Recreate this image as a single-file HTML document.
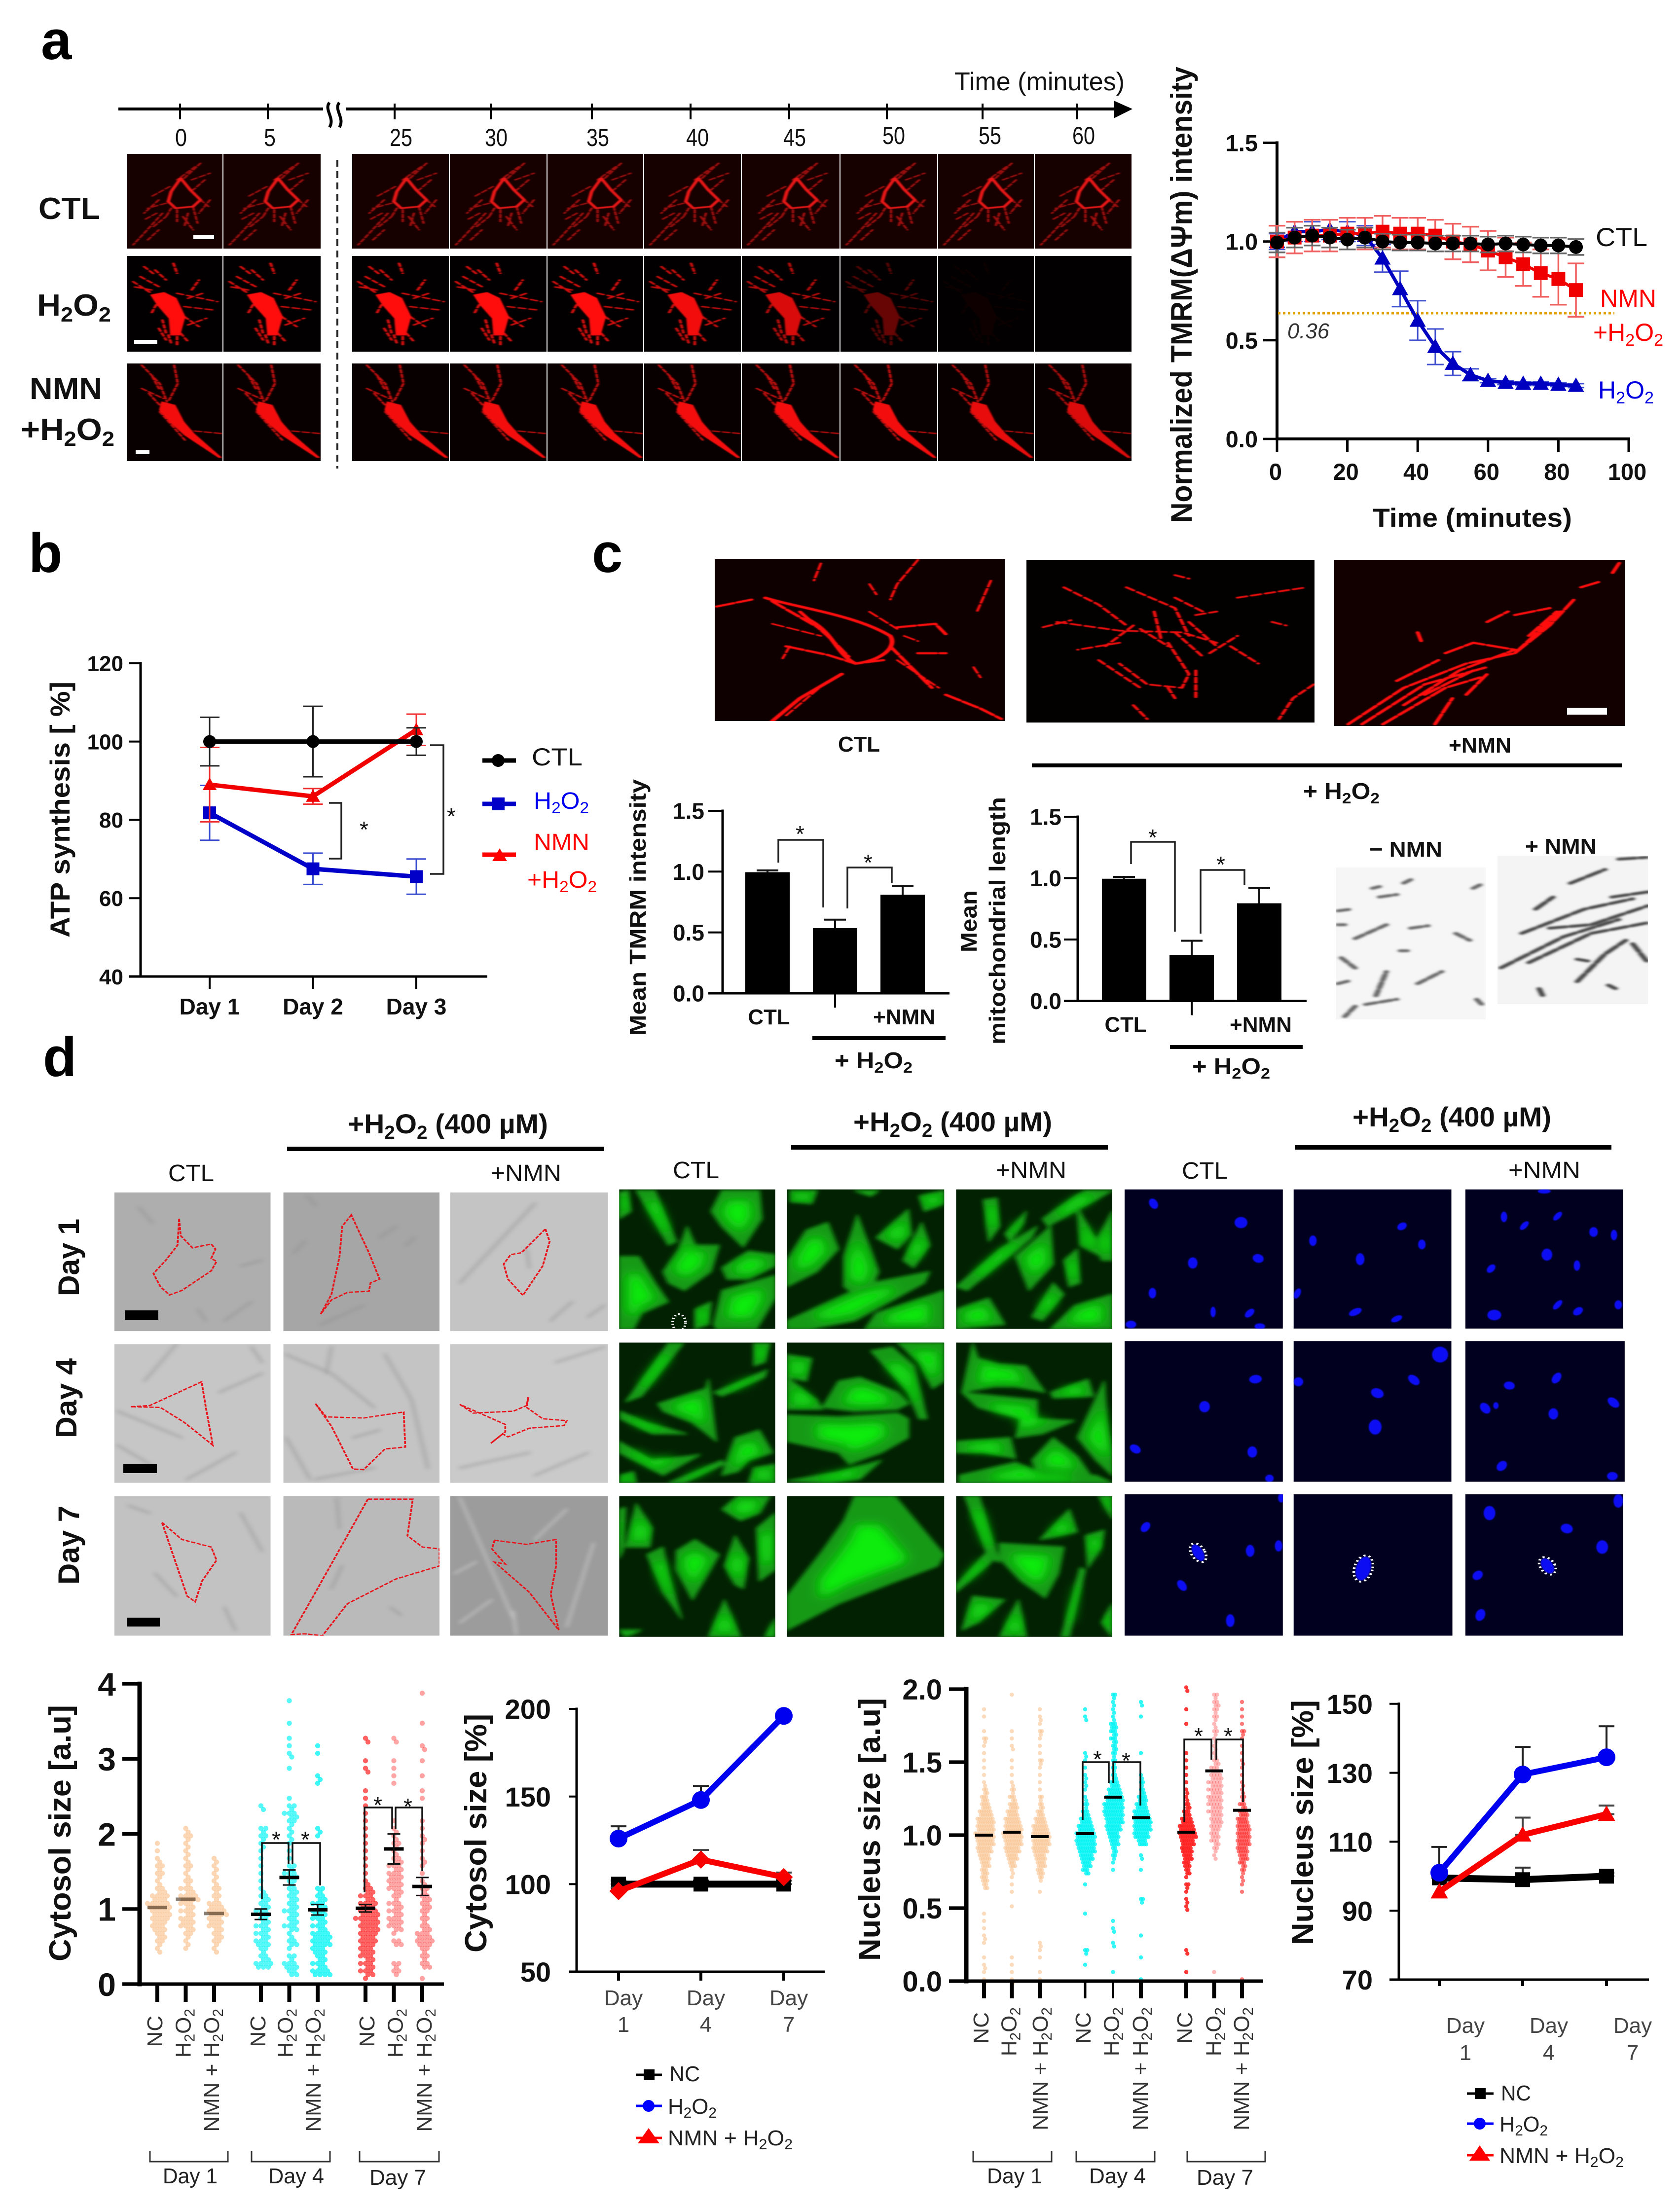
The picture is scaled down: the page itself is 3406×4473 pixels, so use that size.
<!DOCTYPE html>
<html lang="en">
<head>
<meta charset="utf-8">
<title>NMN mitochondria figure</title>
<style>
html,body{margin:0;padding:0;background:#fff}
svg{display:block}
text{font-family:"Liberation Sans",sans-serif;fill:#111}
.b{font-weight:700}
.panel{font-weight:700;font-size:112px;fill:#000}
.c{fill:#222}
.star{font-size:46px;fill:#111}
</style>
</head>
<body>
<svg id="figure" width="3406" height="4473" viewBox="0 0 3406 4473">
<defs>
<filter id="blur1" x="-20%" y="-20%" width="140%" height="140%"><feGaussianBlur stdDeviation="1.3"/></filter>
<filter id="blur2" x="-20%" y="-20%" width="140%" height="140%"><feGaussianBlur stdDeviation="2.5"/></filter>
<filter id="blur4" x="-20%" y="-20%" width="140%" height="140%"><feGaussianBlur stdDeviation="4.5"/></filter>
<filter id="blur8" x="-30%" y="-30%" width="160%" height="160%"><feGaussianBlur stdDeviation="11"/></filter>
<g id="ctl-cell" fill="none" stroke-linecap="round" stroke-linejoin="round" filter="url(#blur1)">
<path d="M220 640L195 700L180 735M212 640L195 660M230 560L205 590M250 535L272 490M260 540L285 520M232 625L225 650M262 622L268 670M240 630L240 665M272 600L283 620M225 610L200 625M255 640L250 680M215 600L195 640M265 500L240 540M278 540L262 570M248 650L262 690M208 680L225 650M200 720L215 690M285 600L270 640" stroke="#a01010" stroke-width="3.5" stroke-dasharray="9 5"/>
<path d="M245 535L232 575L228 605L238 625L262 620L272 600L258 570Z" stroke="#e81515" stroke-width="5"/>
</g>
<g id="h2o2-cell" stroke-linecap="round" stroke-linejoin="round" filter="url(#blur1)">
<path d="M180 845L205 880M190 830L215 860M210 810L225 840M240 880L295 905M250 920L290 930M250 950L270 980M228 1005L232 1030M245 1000L255 1025M215 900L205 940M235 790L240 820M260 870L270 840M205 870L180 860M195 800L210 825M255 895L275 880M255 975L280 955M220 960L225 1000M240 1010L240 1040M215 985L225 1020" fill="none" stroke="#d81010" stroke-width="4" stroke-dasharray="9 6"/>
<path d="M205 885L222 878L238 895L250 950L243 1005L232 1005L230 955L214 915Z" fill="#ff0808" stroke="#ff0808" stroke-width="3"/>
</g>
<g id="nmn-cell" stroke-linecap="round" stroke-linejoin="round" filter="url(#blur1)">
<path d="M190 1095L215 1150L225 1205M235 1095L240 1150L228 1200M190 1165L220 1195M205 1130L215 1170M250 1290L300 1300M215 1235L250 1320M200 1180L215 1215" fill="none" stroke="#c81010" stroke-width="3.5" stroke-dasharray="9 5"/>
<path d="M218 1205L236 1215L248 1265L262 1300L300 1372L297 1372L250 1305L232 1270L215 1230Z" fill="#f40808" stroke="#f40808" stroke-width="2"/>
</g>
</defs>

<rect width="3406" height="4473" fill="#fff"/>

<!-- PANEL A -->
<text class="panel" x="83" y="120">a</text>
<text x="1935" y="183" font-size="52" textLength="345" lengthAdjust="spacingAndGlyphs">Time (minutes)</text>
<path d="M240 221H655M702 221H2265" stroke="#000" stroke-width="6" fill="none"/>
<polygon points="2258,204 2296,221 2258,240" fill="#000"/>
<path d="M668 208C656 222 680 240 668 258M688 208C676 222 700 240 688 258" stroke="#000" stroke-width="6" fill="none"/>
<path d="M365 210V242M543 210V242M800 210V242M995 210V242M1200 210V242M1400 210V242M1600 210V242M1798 210V242M1992 210V242M2184 210V242" stroke="#000" stroke-width="4"/>
<g font-size="50" text-anchor="middle">
<text x="367" y="296" textLength="24" lengthAdjust="spacingAndGlyphs">0</text>
<text x="547" y="296" textLength="24" lengthAdjust="spacingAndGlyphs">5</text>
<text x="813" y="296" textLength="46" lengthAdjust="spacingAndGlyphs">25</text>
<text x="1006" y="296" textLength="46" lengthAdjust="spacingAndGlyphs">30</text>
<text x="1212" y="296" textLength="46" lengthAdjust="spacingAndGlyphs">35</text>
<text x="1414" y="296" textLength="46" lengthAdjust="spacingAndGlyphs">40</text>
<text x="1611" y="296" textLength="46" lengthAdjust="spacingAndGlyphs">45</text>
<text x="1812" y="292" textLength="46" lengthAdjust="spacingAndGlyphs">50</text>
<text x="2007" y="292" textLength="46" lengthAdjust="spacingAndGlyphs">55</text>
<text x="2197" y="292" textLength="46" lengthAdjust="spacingAndGlyphs">60</text>
</g>
<g id="timelapse-tiles"></g>
<path d="M684 324V950" stroke="#222" stroke-width="4" stroke-dasharray="14 9"/>
<rect x="392" y="476" width="42" height="9" fill="#fff"/>
<rect x="272" y="689" width="47" height="9" fill="#fff"/>
<rect x="275" y="913" width="28" height="8" fill="#fff"/>
<text class="b" x="78" y="444" font-size="62" textLength="125" lengthAdjust="spacingAndGlyphs">CTL</text>
<text class="b" x="75" y="640" font-size="62" textLength="150" lengthAdjust="spacingAndGlyphs">H<tspan dy="12" font-size="42">2</tspan><tspan dy="-12">O</tspan><tspan dy="12" font-size="42">2</tspan></text>
<text class="b" x="60" y="809" font-size="62" textLength="147" lengthAdjust="spacingAndGlyphs">NMN</text>
<text class="b" x="42" y="892" font-size="62" textLength="190" lengthAdjust="spacingAndGlyphs">+H<tspan dy="12" font-size="42">2</tspan><tspan dy="-12">O</tspan><tspan dy="12" font-size="42">2</tspan></text>

<g id="chart-tmrm">
<text class="b" transform="rotate(-90 2416 1060)" x="2416" y="1060" font-size="60" textLength="925" lengthAdjust="spacingAndGlyphs">Normalized TMRM(ΔΨm) intensity</text>
<text class="b" x="2783" y="1068" font-size="53" textLength="404" lengthAdjust="spacingAndGlyphs">Time (minutes)</text>
<text x="2610" y="686" font-size="44" font-style="italic" style="fill:#333" textLength="85" lengthAdjust="spacingAndGlyphs">0.36</text>
<text x="3235" y="499" font-size="53" textLength="105" lengthAdjust="spacingAndGlyphs">CTL</text>
<text x="3244" y="622" font-size="50" style="fill:#f00" textLength="114" lengthAdjust="spacingAndGlyphs">NMN</text>
<text x="3230" y="691" font-size="50" style="fill:#f00" textLength="142" lengthAdjust="spacingAndGlyphs">+H<tspan dy="10" font-size="34">2</tspan><tspan dy="-10">O</tspan><tspan dy="10" font-size="34">2</tspan></text>
<text x="3240" y="808" font-size="50" style="fill:#0000e0" textLength="113" lengthAdjust="spacingAndGlyphs">H<tspan dy="10" font-size="34">2</tspan><tspan dy="-10">O</tspan><tspan dy="10" font-size="34">2</tspan></text>
</g>

<!-- PANEL B -->
<text class="panel" x="58" y="1160">b</text>
<g id="chart-atp">
<text class="b" transform="rotate(-90 141 1901)" x="141" y="1901" font-size="56" textLength="519" lengthAdjust="spacingAndGlyphs">ATP synthesis [ %]</text>
</g>
<path d="M667 1628H692V1741H667" fill="none" stroke="#222" stroke-width="3.5"/>
<path d="M872 1511H899V1772H872" fill="none" stroke="#222" stroke-width="3.5"/>
<text class="star" x="729" y="1698">*</text>
<text class="star" x="906" y="1671">*</text>
<g>
<path d="M978 1542H1046" stroke="#000" stroke-width="9"/>
<circle cx="1010" cy="1542" r="13" fill="#000"/>
<text x="1078" y="1552" font-size="50" textLength="103" lengthAdjust="spacingAndGlyphs">CTL</text>
<path d="M978 1630H1046" stroke="#0000c8" stroke-width="9"/>
<rect x="997" y="1617" width="26" height="26" fill="#0000c8"/>
<text x="1082" y="1640" font-size="48" style="fill:#0000f0" textLength="112" lengthAdjust="spacingAndGlyphs">H<tspan dy="9" font-size="32">2</tspan><tspan dy="-9">O</tspan><tspan dy="9" font-size="32">2</tspan></text>
<path d="M978 1733H1046" stroke="#f00" stroke-width="9"/>
<polygon points="998,1746 1028,1746 1013,1720" fill="#f00"/>
<text x="1082" y="1724" font-size="48" style="fill:#f00" textLength="113" lengthAdjust="spacingAndGlyphs">NMN</text>
<text x="1069" y="1800" font-size="48" style="fill:#f00" textLength="141" lengthAdjust="spacingAndGlyphs">+H<tspan dy="9" font-size="32">2</tspan><tspan dy="-9">O</tspan><tspan dy="9" font-size="32">2</tspan></text>
</g>

<!-- PANEL C -->
<text class="panel" x="1200" y="1160">c</text>
<svg x="1449" y="1133" width="588" height="329" viewBox="177 47 418 469" preserveAspectRatio="none">
<rect x="177" y="47" width="418" height="469" fill="#0e0000"/>
<g fill="none" stroke="#ff1010" stroke-linecap="round" stroke-linejoin="round" filter="url(#blur1)">
<path stroke-width="7" d="M250 160C300 190 380 210 430 270C440 300 420 340 380 350C350 320 350 260 310 220M360 380L300 450L260 516"/>
<path stroke-width="6" stroke-dasharray="26 6" d="M180 185L230 165M510 440L560 480L590 510M430 300L470 380L490 420M440 245L495 235L510 265M470 320L510 320M280 300L340 325L380 350L420 340M260 170L330 250L370 330M300 200L340 270"/>
<path stroke-width="4" stroke-dasharray="18 6" d="M470 50L440 120L430 165M575 110L555 200M330 60L320 110M400 120L410 150M260 235L330 270M550 360L560 390M280 500L340 400M450 270L470 285M400 200L440 250M285 300L275 335M440 340L500 420"/>
</g>
</svg>
<svg x="2081" y="1136" width="584" height="329" viewBox="626 52 415 468" preserveAspectRatio="none">
<rect x="626" y="52" width="415" height="468" fill="#030000"/>
<g fill="none" stroke="#f01010" stroke-width="5" stroke-linecap="round" stroke-linejoin="round" stroke-dasharray="14 7" filter="url(#blur1)">
<path d="M680 130L730 180L770 240M770 130L840 190L860 270M670 230L760 255L850 260L900 290M780 240L740 300M760 290L700 310M840 160L880 200M830 290L860 380L850 420L800 410L760 350M920 300L960 350M1040 410L1010 450L990 510M930 160L1030 130M870 370L870 450M840 95L860 105M870 210L900 200M730 340L790 420M890 320L930 270M650 245L690 225M980 230L1000 240M780 470L800 510M830 420L840 450M810 200L820 280M860 230L900 300M840 260L880 330M790 250L830 300"/>
</g>
</svg>
<svg x="2705" y="1136" width="589" height="336" viewBox="1070 52 418 478" preserveAspectRatio="none">
<rect x="1070" y="52" width="418" height="478" fill="#120000"/>
<g fill="none" stroke="#ff1010" stroke-width="6" stroke-linecap="round" stroke-linejoin="round" stroke-dasharray="30 6" filter="url(#blur1)">
<path d="M1090 525L1170 420L1260 350L1330 320L1380 240L1415 165M1110 525L1200 410L1290 360M1140 525L1230 420L1280 390M1170 470L1250 370L1330 310M1215 525L1240 450M1260 440L1290 380M1230 320L1270 290L1330 310M1290 230L1320 200M1330 210L1380 190M1425 130L1450 115M1190 260L1195 285M1480 60L1470 90M1350 270L1390 200M1160 400L1220 340M1200 440L1270 370M1330 320L1395 200"/>
</g>
</svg>
<rect x="3177" y="1435" width="81" height="14" fill="#fff"/>
<text class="b" x="1699" y="1524" font-size="44" textLength="85" lengthAdjust="spacingAndGlyphs">CTL</text>
<text class="b" x="2937" y="1526" font-size="44" textLength="127" lengthAdjust="spacingAndGlyphs">+NMN</text>
<rect x="2092" y="1548" width="1196" height="8" fill="#000"/>
<text class="b" x="2642" y="1620" font-size="46" textLength="155" lengthAdjust="spacingAndGlyphs">+ H<tspan dy="9" font-size="31">2</tspan><tspan dy="-9">O</tspan><tspan dy="9" font-size="31">2</tspan></text>

<g id="chart-bar1">
<text class="b" transform="rotate(-90 1309 2100)" x="1309" y="2100" font-size="46" textLength="520" lengthAdjust="spacingAndGlyphs">Mean  TMRM intensity</text>
</g>
<path d="M1578 1749V1703H1669V1840M1718 1842V1759H1808V1791" fill="none" stroke="#222" stroke-width="3.5"/>
<text class="star" x="1613" y="1707">*</text>
<text class="star" x="1751" y="1765">*</text>
<rect x="1647" y="2101" width="270" height="8" fill="#000"/>
<text class="b" x="1692" y="2166" font-size="46" textLength="158" lengthAdjust="spacingAndGlyphs">+ H<tspan dy="9" font-size="31">2</tspan><tspan dy="-9">O</tspan><tspan dy="9" font-size="31">2</tspan></text>

<g id="chart-bar2">
<text class="b" transform="rotate(-90 1980 1931)" x="1980" y="1931" font-size="46" textLength="126" lengthAdjust="spacingAndGlyphs">Mean</text>
<text class="b" transform="rotate(-90 2038 2118)" x="2038" y="2118" font-size="46" textLength="502" lengthAdjust="spacingAndGlyphs">mitochondrial length</text>
</g>
<path d="M2293 1752V1707H2382V1889M2434 1893V1764H2523V1794" fill="none" stroke="#222" stroke-width="3.5"/>
<text class="star" x="2328" y="1714">*</text>
<text class="star" x="2466" y="1769">*</text>
<rect x="2372" y="2119" width="269" height="8" fill="#000"/>
<text class="b" x="2417" y="2178" font-size="46" textLength="158" lengthAdjust="spacingAndGlyphs">+ H<tspan dy="9" font-size="31">2</tspan><tspan dy="-9">O</tspan><tspan dy="9" font-size="31">2</tspan></text>

<svg x="2708" y="1759" width="304" height="308" viewBox="1072 940 216 438" preserveAspectRatio="none">
<rect x="1072" y="940" width="216" height="438" fill="#f6f6f6"/>
<g fill="none" stroke="#666" stroke-width="8" stroke-linecap="round" stroke-dasharray="16 7" filter="url(#blur2)">
<path d="M1125 1000L1135 995M1135 1025L1160 1018M1170 985L1180 975M1270 1000L1280 990M1075 1065L1095 1060M1075 1105H1085M1100 1145L1145 1105M1180 1115L1205 1108M1245 1130L1265 1150M1165 1180H1175M1080 1200L1100 1230M1075 1275L1095 1265M1115 1335L1160 1320M1100 1340L1085 1370M1130 1310L1145 1240M1190 1275L1225 1240M1275 1320L1285 1340"/>
</g>
</svg>
<svg x="3036" y="1735" width="305" height="301" viewBox="1305 905 217 430" preserveAspectRatio="none">
<rect x="1305" y="905" width="217" height="430" fill="#f4f4f4"/>
<g fill="none" stroke="#444" stroke-width="8" stroke-linecap="round" stroke-dasharray="24 7" filter="url(#blur2)">
<path d="M1480 915L1520 910M1410 985L1460 945M1470 1025L1522 1010M1360 1060L1385 1025M1340 1130L1430 1060L1500 1030M1380 1115L1440 1105L1522 1050M1310 1230L1400 1140L1480 1090M1350 1215L1440 1130L1520 1100M1420 1270L1460 1190L1490 1150M1420 1205L1435 1210M1500 1160L1520 1210M1365 1290L1370 1310M1465 1280L1475 1290"/>
</g>
</svg>
<text class="b" x="2776" y="1737" font-size="44" textLength="148" lengthAdjust="spacingAndGlyphs">− NMN</text>
<text class="b" x="3092" y="1731" font-size="44" textLength="145" lengthAdjust="spacingAndGlyphs">+ NMN</text>

<!-- PANEL D -->
<text class="panel" x="87" y="2182">d</text>
<text class="b" x="705" y="2298" font-size="56" textLength="406" lengthAdjust="spacingAndGlyphs">+H<tspan dy="11" font-size="38">2</tspan><tspan dy="-11">O</tspan><tspan dy="11" font-size="38">2</tspan><tspan dy="-11"> (400 µM)</tspan></text>
<rect x="582" y="2325" width="643" height="9" fill="#000"/>
<text x="341" y="2395" font-size="48" textLength="93" lengthAdjust="spacingAndGlyphs">CTL</text>
<text x="995" y="2395" font-size="48" textLength="143" lengthAdjust="spacingAndGlyphs">+NMN</text>
<text x="1364" y="2389" font-size="48" textLength="94" lengthAdjust="spacingAndGlyphs">CTL</text>
<text class="b" x="1730" y="2294" font-size="56" textLength="403" lengthAdjust="spacingAndGlyphs">+H<tspan dy="11" font-size="38">2</tspan><tspan dy="-11">O</tspan><tspan dy="11" font-size="38">2</tspan><tspan dy="-11"> (400 µM)</tspan></text>
<rect x="1604" y="2322" width="642" height="9" fill="#000"/>
<text x="2019" y="2389" font-size="48" textLength="143" lengthAdjust="spacingAndGlyphs">+NMN</text>
<text x="2396" y="2390" font-size="48" textLength="93" lengthAdjust="spacingAndGlyphs">CTL</text>
<text class="b" x="2742" y="2284" font-size="56" textLength="403" lengthAdjust="spacingAndGlyphs">+H<tspan dy="11" font-size="38">2</tspan><tspan dy="-11">O</tspan><tspan dy="11" font-size="38">2</tspan><tspan dy="-11"> (400 µM)</tspan></text>
<rect x="2625" y="2322" width="642" height="9" fill="#000"/>
<text x="3058" y="2389" font-size="48" textLength="146" lengthAdjust="spacingAndGlyphs">+NMN</text>
<text class="b" transform="rotate(-90 160 2628)" x="160" y="2628" font-size="60" textLength="157" lengthAdjust="spacingAndGlyphs">Day 1</text>
<text class="b" transform="rotate(-90 155 2916)" x="155" y="2916" font-size="60" textLength="162" lengthAdjust="spacingAndGlyphs">Day 4</text>
<text class="b" transform="rotate(-90 160 3213)" x="160" y="3213" font-size="60" textLength="160" lengthAdjust="spacingAndGlyphs">Day 7</text>
<g id="cell-tiles"></g>
<rect x="253" y="2657" width="68" height="19" fill="#000"/>
<rect x="250" y="2969" width="68" height="18" fill="#000"/>
<rect x="257" y="3280" width="67" height="18" fill="#000"/>

<g id="chart-cyto">
<text class="b" transform="rotate(-90 143 3977)" x="143" y="3977" font-size="62" textLength="520" lengthAdjust="spacingAndGlyphs">Cytosol size [a.u]</text>
</g>
<path d="M531 3851V3737H585V3780M593 3780V3737H649V3823M739 3837V3665H795V3708M802 3708V3665H856V3794" fill="none" stroke="#111" stroke-width="3.5"/>
<text class="star" x="551" y="3746">*</text>
<text class="star" x="610" y="3746">*</text>
<text class="star" x="757" y="3676">*</text>
<text class="star" x="818" y="3679">*</text>
<path d="M304 4362V4383H462V4362M510 4362V4383H669V4362M729 4362V4383H890V4362" fill="none" stroke="#333" stroke-width="3"/>
<text class="c" x="330" y="4427" font-size="44" textLength="111" lengthAdjust="spacingAndGlyphs">Day 1</text>
<text class="c" x="544" y="4427" font-size="44" textLength="113" lengthAdjust="spacingAndGlyphs">Day 4</text>
<text class="c" x="749" y="4430" font-size="44" textLength="115" lengthAdjust="spacingAndGlyphs">Day 7</text>

<g id="chart-cytopct">
<text class="b" transform="rotate(-90 986 3959)" x="986" y="3959" font-size="62" textLength="484" lengthAdjust="spacingAndGlyphs">Cytosol size [%]</text>
</g>
<g>
<path d="M1289 4207H1342" stroke="#000" stroke-width="5"/>
<rect x="1305" y="4196" width="22" height="22" fill="#000"/>
<text class="c" x="1357" y="4220" font-size="44" textLength="62" lengthAdjust="spacingAndGlyphs">NC</text>
<path d="M1289 4270H1342" stroke="#00f" stroke-width="5"/>
<circle cx="1315" cy="4270" r="12" fill="#00f"/>
<text class="c" x="1354" y="4286" font-size="44" textLength="99" lengthAdjust="spacingAndGlyphs">H<tspan dy="8" font-size="30">2</tspan><tspan dy="-8">O</tspan><tspan dy="8" font-size="30">2</tspan></text>
<path d="M1289 4335H1342" stroke="#f00" stroke-width="5"/>
<polygon points="1293,4346 1337,4346 1315,4315" fill="#f00"/>
<text class="c" x="1354" y="4350" font-size="44" textLength="253" lengthAdjust="spacingAndGlyphs">NMN + H<tspan dy="8" font-size="30">2</tspan><tspan dy="-8">O</tspan><tspan dy="8" font-size="30">2</tspan></text>
</g>

<g id="chart-nuc">
<text class="b" transform="rotate(-90 1784 3976)" x="1784" y="3976" font-size="62" textLength="533" lengthAdjust="spacingAndGlyphs">Nucleus size [a.u]</text>
</g>
<path d="M2195 3690V3573H2248V3615M2257 3615V3573H2312V3661M2401 3694V3527H2456V3568M2466 3568V3527H2520V3654" fill="none" stroke="#111" stroke-width="3.5"/>
<text class="star" x="2216" y="3583">*</text>
<text class="star" x="2274" y="3586">*</text>
<text class="star" x="2421" y="3536">*</text>
<text class="star" x="2481" y="3536">*</text>
<path d="M1973 4362V4383H2132V4362M2182 4362V4383H2341V4362M2407 4362V4383H2565V4362" fill="none" stroke="#333" stroke-width="3"/>
<text class="c" x="2001" y="4427" font-size="44" textLength="112" lengthAdjust="spacingAndGlyphs">Day 1</text>
<text class="c" x="2208" y="4427" font-size="44" textLength="115" lengthAdjust="spacingAndGlyphs">Day 4</text>
<text class="c" x="2426" y="4430" font-size="44" textLength="115" lengthAdjust="spacingAndGlyphs">Day 7</text>

<g id="chart-nucpct">
<text class="b" transform="rotate(-90 2662 3944)" x="2662" y="3944" font-size="62" textLength="497" lengthAdjust="spacingAndGlyphs">Nucleus size [%]</text>
</g>
<g>
<path d="M2974 4245H3028" stroke="#000" stroke-width="5"/>
<rect x="2990" y="4234" width="22" height="22" fill="#000"/>
<text class="c" x="3043" y="4259" font-size="44" textLength="61" lengthAdjust="spacingAndGlyphs">NC</text>
<path d="M2974 4306H3028" stroke="#00f" stroke-width="5"/>
<circle cx="3000" cy="4306" r="12" fill="#00f"/>
<text class="c" x="3040" y="4322" font-size="44" textLength="98" lengthAdjust="spacingAndGlyphs">H<tspan dy="8" font-size="30">2</tspan><tspan dy="-8">O</tspan><tspan dy="8" font-size="30">2</tspan></text>
<path d="M2974 4370H3028" stroke="#f00" stroke-width="5"/>
<polygon points="2979,4381 3021,4381 3000,4350" fill="#f00"/>
<text class="c" x="3040" y="4386" font-size="44" textLength="252" lengthAdjust="spacingAndGlyphs">NMN + H<tspan dy="8" font-size="30">2</tspan><tspan dy="-8">O</tspan><tspan dy="8" font-size="30">2</tspan></text>
</g>
</svg>

<script>
/* ---------- chart data: panel a ---------- */
var tmrmTimes = [0,5,10,15,20,25,30,35,40,45,50,55,60,65,70,75,80,85];
var tmrmCtl = [0.995,1.02,1.03,1.02,1.01,1.02,1.0,0.995,0.995,0.99,0.99,0.99,0.985,0.99,0.985,0.98,0.98,0.972];
var tmrmCtlErr = [0.05,0.05,0.05,0.05,0.05,0.05,0.04,0.04,0.04,0.04,0.04,0.04,0.04,0.04,0.04,0.04,0.04,0.04];
var tmrmNmn = [1.0,1.02,1.03,1.03,1.04,1.04,1.05,1.04,1.04,1.03,1.0,0.985,0.954,0.92,0.885,0.84,0.81,0.754];
var tmrmNmnErr = [0.08,0.08,0.08,0.08,0.08,0.08,0.08,0.08,0.08,0.08,0.09,0.09,0.1,0.1,0.11,0.12,0.13,0.135];
var tmrmH2o2 = [1.0,1.05,1.05,1.06,1.05,1.03,0.915,0.76,0.6,0.467,0.382,0.325,0.295,0.285,0.28,0.28,0.275,0.27];
var tmrmH2o2Err = [0.04,0.05,0.05,0.05,0.05,0.05,0.07,0.09,0.1,0.09,0.06,0.03,0.01,0.01,0.01,0.01,0.01,0.01];
var tmrmYTicks = [0,0.5,1,1.5];
var tmrmXTicks = [0,20,40,60,80,100];
var tmrmThreshold = [0.637];

/* ---------- chart data: panel b ---------- */
var atpDays = ['Day 1','Day 2','Day 3'];
var atpCtl = [100,100,100];
var atpCtlErr = [6.2,9,3.5];
var atpH2o2 = [81.8,67.5,65.5];
var atpH2o2Err = [7,4,4.5];
var atpNmn = [89,86,103];
var atpNmnErr = [9.5,2,4];
var atpYTicks = [40,60,80,100,120];

/* ---------- chart data: panel c ---------- */
var barCats = ['CTL','','+NMN'];
var barYTicks = [0,0.5,1,1.5];
var meanTmrm = [0.995,0.535,0.81];
var meanTmrmErr = [0.015,0.07,0.07];
var meanLength = [0.995,0.375,0.795];
var meanLengthErr = [0.015,0.115,0.125];

/* ---------- chart data: panel d swarms ---------- */
var cytoBins = [0.05,0.15,0.25,0.35,0.45,0.55,0.65,0.75,0.85,0.95,1.05,1.15,1.25,1.35,1.45,1.55,1.65,1.75,1.85,1.95,2.05,2.15,2.25,2.35,2.45,2.55,2.65,2.75,2.85,2.95,3.05,3.15,3.25,3.35,3.45,3.55,3.65,3.75,3.85];
var cytoDay1NC   = [0,0,0,0,2,3,4,6,7,8,10,7,4,2,3,3,2,1,1];
var cytoDay1H2o2 = [0,0,0,0,1,2,3,5,6,5,5,8,5,3,2,3,2,2,2,3,2];
var cytoDay1Nmn  = [0,0,0,0,2,3,4,5,6,8,6,3,3,2,2,2,2];
var cytoDay4NC   = [0,0,7,4,3,6,5,5,4,5,4,4,2,1,1,1,1,1,2,3,3,0,0,2];
var cytoDay4H2o2 = [0,4,6,3,1,4,2,5,4,5,4,4,4,3,5,3,1,1,1,2,2,3,5,3,1,0,0,0,1,0,2,1,1,0,1,0,0,1];
var cytoDay4Nmn  = [0,8,5,4,6,8,8,5,5,6,5,4,3,0,0,0,0,0,0,1,2,0,0,0,0,0,1,2,0,0,1,1];
var cytoDay7NC   = [1,5,5,5,6,7,7,8,9,8,7,5,4,2,1,1,1,1,1,1,1,1,1,1,1,1,0,0,2,1,0,0,2];
var cytoDay7H2o2 = [0,3,3,0,0,4,1,5,6,5,5,3,5,6,6,5,4,2,3,2,2,1,0,0,0,0,1,1,1,1,0,0,2];
var cytoDay7Nmn  = [1,0,4,3,3,7,6,4,3,3,4,4,3,2,1,1,2,1,1,2,1,1,0,0,1,1,0,1,0,1,0,2,0,0,1,0,0,0,1];
var cytoMeans = [1.02,1.13,0.94,0.93,1.42,0.99,1.01,1.8,1.3];
var cytoErrs  = [0,0,0,0.07,0.1,0.07,0.05,0.2,0.12];
var cytoYTicks = [0,1,2,3,4];

var nucBins = [0,0.05,0.1,0.15,0.2,0.25,0.3,0.35,0.4,0.45,0.5,0.55,0.6,0.65,0.7,0.75,0.8,0.85,0.9,0.95,1,1.05,1.1,1.15,1.2,1.25,1.3,1.35,1.4,1.45,1.5,1.55,1.6,1.65,1.7,1.75,1.8,1.85,1.9,1.95,2];
var nucDay1NC   = [2,1,2,1,0,1,2,1,1,1,0,0,0,4,6,6,8,10,14,16,18,16,16,12,8,6,4,2,1,1,1,1,1,3,1,0,1,1];
var nucDay1H2o2 = [2,1,1,1,0,0,0,0,0,0,1,0,1,1,1,2,6,10,14,16,18,16,14,10,8,5,3,2,1,1,1,0,2,1,1,0,0,0,0,1];
var nucDay1Nmn  = [1,1,0,1,1,2,0,0,0,0,0,0,1,0,3,6,8,10,14,16,16,14,10,6,4,3,1,1,1,1,3,1,1,1,3,1,2,1];
var nucDay4NC   = [0,0,1,0,3,0,0,0,0,1,0,0,0,1,0,5,8,12,16,18,18,14,10,6,3,2,1,2,2,1,1,2,0,0,0,0,2,1];
var nucDay4H2o2 = [0,1,0,0,0,2,0,2,1,0,0,0,0,0,0,1,1,3,4,8,10,14,16,18,18,16,12,8,4,3,3,3,4,5,5,6,2,2,2,3];
var nucDay4Nmn  = [1,0,0,1,0,0,1,0,0,0,0,3,0,0,0,1,0,2,0,8,14,16,16,14,10,8,4,3,2,0,0,1,0,0,0,0,1,0,2];
var nucDay7NC   = [0,1,0,0,2,0,0,0,0,0,2,2,1,3,1,4,6,8,10,12,16,14,10,6,4,2,2,1,1,1,1,1,0,0,0,1,0,1,0,0,2];
var nucDay7H2o2 = [0,1,0,0,0,0,0,0,0,0,0,0,0,0,0,0,0,2,3,5,6,7,8,9,9,10,9,9,8,6,4,2,2,2,3,2,3,3,4,3];
var nucDay7Nmn  = [1,0,0,0,0,0,0,0,0,0,0,0,1,1,2,3,5,8,10,12,12,12,10,8,5,3,2,2,1,1,2,1,1,1,3,1,1,1,1];
var nucMeans = [1.0,1.02,0.99,1.01,1.26,1.12,1.02,1.44,1.17];
var nucYTicks = [0,0.5,1,1.5,2];
var swarmCats = ['NC','H2O2','NMN + H2O2'];

/* ---------- chart data: panel d lines ---------- */
var dayNames = ['Day','Day','Day'];
var dayNums = ['1','4','7'];
var cytoPctNC = [100,100,100];
var cytoPctNCErr = [2,2,2];
var cytoPctH2o2 = [126,148,196];
var cytoPctH2o2Err = [7,8,0];
var cytoPctNmn = [96,114,104];
var cytoPctNmnErr = [2,5.5,2.6];
var cytoPctYTicks = [50,100,150,200];
var nucPctNC = [99.5,99,100];
var nucPctNCErr = [1,3.5,1];
var nucPctH2o2 = [101,129.5,134.5];
var nucPctH2o2Err = [7.5,8,9];
var nucPctNmn = [95.5,112,118];
var nucPctNmnErr = [0,5,2.5];
var nucPctYTicks = [70,90,110,130,150];

/* ---------- helpers ---------- */
function mk(tag,parent,attrs){
  var el=document.createElementNS('http://www.w3.org/2000/svg',tag);
  for(var k in attrs){el.setAttribute(k,attrs[k]);}
  parent.appendChild(el);
  return el;
}
function rule(g,x1,y1,x2,y2,color,w,name){
  var el=mk('line',g,{x1:x1,y1:y1,x2:x2,y2:y2,stroke:color,'stroke-width':w});
  
  
  return el;
}
function tickText(g,x,y,str,size,anchor,weight,fill){
  var el=mk('text',g,{x:x,y:y,'font-size':size,'text-anchor':anchor,'font-weight':weight});
  el.style.fill=fill;
  
  
  el.textContent=str;
  return el;
}
function yAxis(g,ticks,y,axisX,tickLeft,labelRight,size,sw,dec){
  var top=y(ticks[ticks.length-1]),bot=y(ticks[0]);
  rule(g,axisX,top-sw/2,axisX,bot+sw/2,'#000',sw,'y-axis-line');
  ticks.forEach(function(t){
    rule(g,tickLeft,y(t),axisX,y(t),'#000',sw*0.8,'y-axis-tick');
    tickText(g,labelRight,y(t)+size*0.36,t.toFixed(dec),size,'end','700','#111');
  });
}
function marker(g,type,cx,cy,r,fill){
  var el;
  if(type==='circle'){el=mk('circle',g,{cx:cx,cy:cy,r:r,fill:fill});}
  else if(type==='square'){el=mk('rect',g,{x:cx-r,y:cy-r,width:2*r,height:2*r,fill:fill});}
  else if(type==='triangle'){el=mk('polygon',g,{points:(cx-r*1.1)+','+(cy+r*0.85)+' '+(cx+r*1.1)+','+(cy+r*0.85)+' '+cx+','+(cy-r*1.1),fill:fill});}
  else {el=mk('polygon',g,{points:(cx-r*1.15)+','+cy+' '+cx+','+(cy-r*1.15)+' '+(cx+r*1.15)+','+cy+' '+cx+','+(cy+r*1.15),fill:fill});}
  
  
  return el;
}
function errBar(g,px,yLow,yHigh,cap,color,w){
  var el=mk('path',g,{d:'M'+(px-cap)+' '+yHigh+'H'+(px+cap)+'M'+px+' '+yHigh+'V'+yLow+'M'+(px-cap)+' '+yLow+'H'+(px+cap),fill:'none',stroke:color,'stroke-width':w});
  
  
  return el;
}
function series(g,xs,vals,errs,x,y,opt){
  var k;
  for(k=0;k<vals.length;k++){
    if(errs[k]>0){
      var low=opt.upperOnly?vals[k]:vals[k]-errs[k];
      errBar(g,x(xs[k]),y(low),y(vals[k]+errs[k]),opt.cap,opt.errColor,opt.errW);
    }
  }
  var pts=vals.map(function(v,i){return x(xs[i])+','+y(v);}).join(' ');
  var ln=mk('polyline',g,{points:pts,fill:'none',stroke:opt.color,'stroke-width':opt.lw,'stroke-linejoin':'round'});
  
  
  for(k=0;k<vals.length;k++){marker(g,opt.type,x(xs[k]),y(vals[k]),opt.r,opt.color);}
}

/* ---------- chart: TMRM time course ---------- */
(function(){
  var g=document.getElementById('chart-tmrm');
  var x=function(v){return 2589+v*7.13;};
  var y=function(v){return 890-v*400.3;};
  yAxis(g,tmrmYTicks,y,2589,2561,2550,47,6,1);
  rule(g,2586,890,3305,890,'#000',6,'x-axis-line');
  tmrmXTicks.forEach(function(t){
    rule(g,x(t),890,x(t),917,'#000',5,'x-axis-tick');
    tickText(g,x(t)-3,973,String(t),47,'middle','700','#111');
  });
  var th=mk('line',g,{x1:2591,x2:3273,y1:y(tmrmThreshold[0]),y2:y(tmrmThreshold[0]),stroke:'#e0a000','stroke-width':5,'stroke-dasharray':'5 5'});
  
  
  series(g,tmrmTimes,tmrmH2o2,tmrmH2o2Err,x,y,{key:'h2o2',color:'#0000c0',errColor:'#4050d0',errW:3,cap:17,lw:7,type:'triangle',r:15});
  series(g,tmrmTimes,tmrmNmn,tmrmNmnErr,x,y,{key:'nmn',color:'#f00000',errColor:'#f06060',errW:3.5,cap:17,lw:6,type:'square',r:14});
  series(g,tmrmTimes,tmrmCtl,tmrmCtlErr,x,y,{key:'ctl',color:'#000',errColor:'#666',errW:3.5,cap:17,lw:6,type:'circle',r:14});
})();

/* ---------- chart: ATP synthesis ---------- */
(function(){
  var g=document.getElementById('chart-atp');
  var x=function(i){return 425+i*209.5;};
  var y=function(v){return 1980-(v-40)*7.94;};
  yAxis(g,atpYTicks,y,285,262,250,44,5,0);
  rule(g,262,1980,988,1980,'#000',5,'x-axis-line');
  atpDays.forEach(function(d,i){
    rule(g,x(i),1980,x(i),2005,'#000',4,'x-axis-tick');
    tickText(g,x(i),2057,d,46,'middle','700','#111');
  });
  var idx=[0,1,2];
  series(g,idx,atpH2o2,atpH2o2Err,x,y,{key:'h2o2',color:'#0000c8',errColor:'#3a4cd0',errW:3,cap:20,lw:9,type:'square',r:13});
  series(g,idx,atpNmn,atpNmnErr,x,y,{key:'nmn',color:'#f00000',errColor:'#f03030',errW:3,cap:20,lw:9,type:'triangle',r:13});
  series(g,idx,atpCtl,atpCtlErr,x,y,{key:'ctl',color:'#000',errColor:'#222',errW:3,cap:20,lw:9,type:'circle',r:13});
})();

/* ---------- charts: mean bars ---------- */
function barChart(g,vals,errs,cats,x0,zero,unit,axisX,tickLeft,labelRight,xEnd){
  var y=function(v){return zero-v*unit;};
  var x=function(i){return x0+i*137;};
  vals.forEach(function(v,i){
    var er=mk('path',g,{d:'M'+(x(i)-22)+' '+y(v+errs[i])+'H'+(x(i)+22)+'M'+x(i)+' '+y(v+errs[i])+'V'+y(v),fill:'none',stroke:'#111','stroke-width':4});
    
    
    var r=mk('rect',g,{x:x(i)-45,y:y(v),width:90,height:v*unit,fill:'#000'});
    
    
    if(cats[i]===''){rule(g,x(i),zero,x(i),zero+29,'#000',4,'x-axis-tick');}
    else{
      var t=tickText(g,x(i)+3,zero+63,cats[i],44,'middle','700','#111');
      t.setAttribute('textLength',cats[i].length>3?126:85);
      t.setAttribute('lengthAdjust','spacingAndGlyphs');
    }
  });
  yAxis(g,barYTicks,y,axisX,tickLeft,labelRight,46,5,1);
  rule(g,tickLeft,zero,xEnd,zero,'#000',5,'x-axis-line');
}
barChart(document.getElementById('chart-bar1'),meanTmrm,meanTmrmErr,barCats,1556,2014,246.7,1465,1436,1428,1925);
barChart(document.getElementById('chart-bar2'),meanLength,meanLengthErr,barCats,2279,2029.5,249,2185,2157,2152,2649);

/* ---------- charts: swarms ---------- */
function subText(g,bx,top,str,size){
  var el=mk('text',g,{'font-size':size,'text-anchor':'end',transform:'translate('+bx+','+top+') rotate(-90)'});
  el.style.fill='#333';
  
  
  var parts=str.split(/(2)/);
  var down=false;
  parts.forEach(function(p){
    if(p===''){return;}
    var s=mk('tspan',el,{});
    if(p==='2'){s.setAttribute('dy',8);s.setAttribute('font-size',size*0.68);down=true;}
    else if(down){s.setAttribute('dy',-8);down=false;}
    s.textContent=p;
  });
  return el;
}
function swarm(g,counts,bins,cx,y,color,r,step,gap,op){
  counts.forEach(function(n,b){
    for(var j=0;j<n;j++){
      var row=j%2,idx=j>>1;
      var off=((idx+1)>>1)*(idx%2?1:-1)*step+(row?step/2:0);
      var dot=mk('circle',g,{cx:cx+off,cy:y(bins[b])+(row?gap:-gap),r:r,fill:color,'fill-opacity':op});
      
      
    }
  });
}
var swarmColors=['#f8bd85','#00f4f4','#ff2020'];
(function(){
  var g=document.getElementById('chart-cyto');
  var groups=[cytoDay1NC,cytoDay1H2o2,cytoDay1Nmn,cytoDay4NC,cytoDay4H2o2,cytoDay4Nmn,cytoDay7NC,cytoDay7H2o2,cytoDay7Nmn];
  var dayBase=[319,529,741];
  var labelNudge=[10,10,10,9,7,6,18,18,19];
  var opac=[0.6,0.6,0.6,0.65,0.65,0.75,0.7,0.4,0.42];
  var x=function(i){return dayBase[Math.floor(i/3)]+(i%3)*57.5;};
  var y=function(v){return 4023-v*152.2;};
  groups.forEach(function(c,i){swarm(g,c,cytoBins,x(i),y,swarmColors[Math.floor(i/3)],5.2,10,3.8,opac[i]);});
  yAxis(g,cytoYTicks,y,283,248,235,66,9,0);
  rule(g,248,4023,900,4023,'#000',7,'x-axis-line');
  groups.forEach(function(c,i){
    rule(g,x(i),4023,x(i),4059,'#000',8,'x-axis-tick');
    var cat=swarmCats[i%3];
    subText(g,x(i)+labelNudge[i],cat==='NC'?4087:4073,cat,44);
    rule(g,x(i)-20,y(cytoMeans[i]),x(i)+20,y(cytoMeans[i]),i<3?'rgba(40,20,0,.55)':'#000',7,'mean-bar');
    if(cytoErrs[i]>0){errBar(g,x(i),y(cytoMeans[i]-cytoErrs[i]),y(cytoMeans[i]+cytoErrs[i]),13,'#111',3);}
  });
})();
(function(){
  var g=document.getElementById('chart-nuc');
  var groups=[nucDay1NC,nucDay1H2o2,nucDay1Nmn,nucDay4NC,nucDay4H2o2,nucDay4Nmn,nucDay7NC,nucDay7H2o2,nucDay7Nmn];
  var dayBase=[1995,2200,2405];
  var labelNudge=[9,9,16,11,12,14,12,14,14];
  var opac=[0.55,0.55,0.55,0.8,0.8,0.8,0.9,0.32,0.6];
  var x=function(i){return dayBase[Math.floor(i/3)]+(i%3)*56.5;};
  var y=function(v){return 4017-v*296;};
  groups.forEach(function(c,i){swarm(g,c,nucBins,x(i),y,swarmColors[Math.floor(i/3)],4.2,i===7?6:4.4,3.6,opac[i]);});
  yAxis(g,nucYTicks,y,1959,1924,1910,58,9,1);
  rule(g,1924,4017,2561,4017,'#000',7,'x-axis-line');
  groups.forEach(function(c,i){
    rule(g,x(i),4017,x(i),4052,'#000',i===3||i===4?5:8,'x-axis-tick');
    var cat=swarmCats[i%3];
    subText(g,x(i)+labelNudge[i],cat==='NC'?4080:4070,cat,44);
    rule(g,x(i)-18,y(nucMeans[i]),x(i)+18,y(nucMeans[i]),'#000',6,'mean-bar');
  });
})();

/* ---------- charts: percent lines ---------- */
function pctChart(g,y,ticks,axisX,tickLeft,labelRight,xEnd,baseY,tickBottom,xs,labelShift,nameY,numY,nc,ncE,h,hE,n,nE,nmnType){
  var x=function(i){return xs[i];};
  yAxis(g,ticks,y,axisX,tickLeft,labelRight,56,5,0);
  rule(g,tickLeft,baseY,xEnd,baseY,'#000',5,'x-axis-line');
  dayNames.forEach(function(d,i){
    rule(g,x(i),baseY,x(i),tickBottom,'#000',6,'x-axis-tick');
    tickText(g,x(i)+labelShift,nameY,d,44,'middle','400','#444');
    tickText(g,x(i)+labelShift,numY,dayNums[i],44,'middle','400','#444');
  });
  var idx=[0,1,2];
  series(g,idx,nc,ncE,x,y,{key:'nc',color:'#000',errColor:'#333',errW:4,cap:16,lw:14,type:'square',r:15,upperOnly:true});
  series(g,idx,h,hE,x,y,{key:'h2o2',color:'#0000f0',errColor:'#222',errW:4,cap:16,lw:12,type:'circle',r:18,upperOnly:true});
  series(g,idx,n,nE,x,y,{key:'nmn-h2o2',color:'#f80000',errColor:'#444',errW:4,cap:16,lw:12,type:nmnType,r:16,upperOnly:true});
}
pctChart(document.getElementById('chart-cytopct'),function(v){return 3998-(v-50)*3.553;},cytoPctYTicks,1169,1154,1117,1672,3998,4016,[1254,1421,1589],10,4066,4120,cytoPctNC,cytoPctNCErr,cytoPctH2o2,cytoPctH2o2Err,cytoPctNmn,cytoPctNmnErr,'diamond');
pctChart(document.getElementById('chart-nucpct'),function(v){return 4014-(v-70)*6.99;},nucPctYTicks,2836,2817,2783,3343,4014,4027,[2918,3087,3257],53,4122,4177,nucPctNC,nucPctNCErr,nucPctH2o2,nucPctH2o2Err,nucPctNmn,nucPctNmnErr,'triangle');

/* ---------- microscopy: panel a timelapse tiles ---------- */
(function(){
  var host=document.getElementById('timelapse-tiles');
  var cols=[258,453,652];
  var colsR=[714,912,1110,1306,1504,1704,1902,2098,2296];
  var rows=[
    {y0:312,y1:504,bg:'#160000',ref:'#ctl-cell',vb:'172 462 130 284',name:'ctl',fade:[1,1,1,1,1,1,1,1,1,1]},
    {y0:519,y1:713,bg:'#020000',ref:'#h2o2-cell',vb:'172 768 130 287',name:'h2o2',fade:[1,1,1,1,1,0.95,0.85,0.4,0.05,0]},
    {y0:737,y1:935,bg:'#080000',ref:'#nmn-cell',vb:'170 1090 132 293',name:'nmn',fade:[1,1,1,1,1,1,1,1,0.95,0.9]}
  ];
  rows.forEach(function(r){
    var edges=[];
    edges.push([cols[0],cols[1]]);edges.push([cols[1],cols[2]]);
    for(var i=0;i<colsR.length-1;i++){edges.push([colsR[i],colsR[i+1]]);}
    edges.forEach(function(e,i){
      var t=mk('svg',host,{x:e[0],y:r.y0,width:e[1]-e[0]-2,height:r.y1-r.y0,viewBox:r.vb,preserveAspectRatio:'none'});
      
      
      var p=r.vb.split(' ');
      var bg=mk('rect',t,{x:p[0],y:p[1],width:p[2],height:p[3],fill:r.bg});
      
      
      var u=mk('use',t,{href:r.ref,opacity:r.fade[i]});
      
      
    });
  });
})();

/* ---------- microscopy: panel d tiles ---------- */
var Z5=[0,1.084],Z6=[1700,1.088];
function tile(host,z,x0,y0,x1,y1,bg,name){
  var ax=z[0]+x0*z[1],ay=2150+y0*0.765,w=(x1-x0)*z[1],h=(y1-y0)*0.765;
  var t=mk('svg',host,{x:ax,y:ay,width:w,height:h,viewBox:x0+' '+y0+' '+(x1-x0)+' '+(y1-y0),preserveAspectRatio:'none'});
  
  
  var r=mk('rect',t,{x:x0,y:y0,width:x1-x0,height:y1-y0,fill:bg});
  
  
  return t;
}
(function(){
  var host=document.getElementById('cell-tiles');
  var bf=[
   {b:[214,350,506,718],bg:'#aeaeae',o:'335,420 338,465 360,497 395,487 403,500 395,525 405,533 395,558 340,610 317,622 300,600 287,565 310,530 332,490',s:'M260 390L285 430M370 660L385 690M450 545L490 530M420 690L470 640'},
   {b:[530,350,822,718],bg:'#a6a6a6',o:'657,410 640,440 635,520 620,620 600,672 620,635 650,615 690,612 693,590 710,580 690,510',s:'M550 510L570 480M710 470L740 440M600 700L680 650M575 360L590 385M760 490L775 470'},
   {b:[842,350,1137,718],bg:'#c4c4c4',o:'1020,447 1028,480 1015,545 978,623 950,580 942,540 955,515 975,510',s:'M860 590L1000 380M1030 690L1070 640M985 500L990 550M1100 680L1130 650'},
   {b:[214,752,506,1120],bg:'#c6c6c6',o:'245,918 280,915 377,852 385,920 398,1020 345,960 300,920',s:'M270 850L330 752M410 880L490 830M220 930L340 1000M220 1020L280 1070M350 1110L440 1040M470 760L490 800'},
   {b:[530,752,822,1120],bg:'#c4c4c4',o:'590,910 610,945 680,948 755,932 758,1025 720,1030 680,1085 660,1083 620,970',s:'M535 780L620 830L700 920M720 780L770 900L800 1080M535 1000L580 1110M590 1110L700 1080M660 1000L710 980M620 760L610 830'},
   {b:[842,752,1137,1120],bg:'#cacaca',o:'860,912 885,935 960,930 985,915 988,893 985,920 1015,950 1060,955 1055,968 990,975 950,998 940,990 918,1015 945,985 945,965',s:'M860 1080L990 1040M1000 1100L1100 1040M1040 800L1130 760'},
   {b:[214,1155,506,1525],bg:'#c2c2c2',o:'303,1225 340,1270 395,1290 405,1325 378,1380 365,1435 350,1420',s:'M290 1360L330 1420M240 1180L280 1200M420 1450L440 1510M450 1200L490 1300'},
   {b:[530,1155,822,1525],bg:'#bababa',o:'688,1163 772,1163 762,1260 790,1290 822,1295 822,1340 740,1375 650,1440 603,1525 570,1520 545,1522 590,1410',s:'M630 1160L635 1240M640 1340L620 1400M730 1450L750 1470'},
   {b:[842,1155,1137,1525],bg:'#9c9c9c',o:'925,1272 985,1283 1040,1270 1040,1340 1030,1415 1045,1510 990,1410 925,1330 945,1335 920,1295',s:'M860 1160L960 1480M850 1360L890 1330M1060 1500L1110 1280M1000 1270L1060 1190M860 1490L920 1430M960 1460L965 1520'}
  ];
  bf.forEach(function(d,i){
    var t=tile(host,Z5,d.b[0],d.b[1],d.b[2],d.b[3],d.bg,'brightfield-tile-'+(i+1));
    var st=mk('path',t,{d:d.s,fill:'none',stroke:i===8?'#d8d8d8':'#8f8f8f','stroke-width':5,'stroke-linecap':'round',filter:'url(#blur4)',opacity:0.6});
    
    
    var o=mk('polygon',t,{points:d.o,fill:'none',stroke:'#e8141c','stroke-width':3.4,'stroke-dasharray':'8 3'});
    
    
  });

  var gr=[
   {z:Z5,b:[1158,342,1450,712],c:['1190,345 1225,345 1265,480 1250,490','1350,345 1420,345 1425,420 1390,495 1350,440 1330,400','1240,560 1270,500 1285,440 1300,490 1345,490 1330,560 1280,610 1250,590','1350,550 1400,505 1450,515 1450,545 1400,580 1360,580','1335,700 1350,610 1400,590 1450,570 1450,630 1415,712 1340,712','1158,520 1195,520 1225,590 1250,640 1200,670 1185,712 1158,712','1300,660 1330,640 1325,700 1300,712','1158,350 1175,345 1180,400 1158,420']},
   {z:Z6,b:[-96,342,197,712],c:['-90,345 -40,345 -50,380 -90,375','-96,530 -60,450 -20,430 0,500 -40,560 -96,600','10,520 35,410 75,560 50,640 10,600','70,470 130,395 135,460 110,500','120,530 155,430 170,490 140,550','-96,690 60,590 170,560 160,590 30,690 -50,712 -96,712','50,712 70,670 197,610 197,712','30,345 75,345 60,360','150,360 197,345 197,380 160,400']},
   {z:Z6,b:[219,342,510,712],c:['270,370 295,365 300,440 280,480','310,460 350,400 345,430 320,480','219,600 300,500 370,440 360,470 240,610','330,520 395,440 400,540 355,610','420,530 445,500 450,590 430,600','380,420 440,360 460,345 510,345 480,370 390,440','445,390 490,500 490,520 450,490','480,480 510,400 510,530 490,530','219,660 280,630 310,700 219,712','360,680 400,590 420,620 380,690','395,712 440,650 510,620 510,712']},
   {z:Z5,b:[1158,748,1450,1120],c:['1170,905 1250,750 1278,750 1200,890','1230,910 1320,870 1325,845 1340,1010 1295,960 1240,930','1335,880 1435,820 1430,840 1350,890','1410,750 1440,750 1430,800 1410,810','1160,930 1210,960 1285,990 1220,990 1160,950','1158,1010 1220,1060 1310,1045 1240,1100 1200,1070 1158,1040','1350,1100 1375,1000 1420,980 1445,1040 1400,1060 1380,1090','1400,1120 1410,1080 1450,1070 1450,1120','1160,1100 1185,1090 1190,1120 1158,1120','1250,1120 1350,1060 1355,1070 1280,1120']},
   {z:Z6,b:[-96,748,197,1120],c:['-96,780 -50,790 -60,850 -96,840','0,850 40,840 110,880 130,910 110,925 30,930 -30,920','-96,840 -40,900 -30,925 -96,925','0,945 110,935 130,950 130,1000 80,1040 20,1070 0,1040 -96,1010 -96,940','60,770 100,760 140,810 165,950 150,950 130,880','110,748 197,748 197,850 175,870 150,800','-96,1115 0,1090 80,1060 40,1110 -20,1120']},
   {z:Z6,b:[219,748,510,1120],c:['250,750 260,790 300,805 350,810 385,880 330,865 290,865 230,880','395,880 465,845 475,890 400,895','230,880 370,900 370,950 440,955 380,990 330,1000 340,950 260,920','219,1010 320,1000 330,1055 270,1040 219,1040','360,1060 400,1000 445,1050 470,1100 370,1090','445,1000 495,850 500,950 510,1040 510,1100 480,1060','225,1100 330,1065 380,1095 480,1100 510,1120 225,1120']},
   {z:Z5,b:[1158,1155,1450,1528],c:['1190,1175 1220,1240 1215,1290 1170,1290','1158,1190 1170,1185 1165,1300 1158,1320','1265,1300 1300,1270 1345,1310 1320,1370 1295,1430 1265,1350','1355,1340 1375,1260 1400,1320 1390,1400 1375,1390','1350,1190 1380,1155 1440,1155 1420,1200 1385,1220','1415,1240 1450,1200 1450,1350 1420,1380','1325,1528 1355,1430 1385,1528','1210,1310 1240,1290 1250,1360 1275,1480 1240,1410','1430,1528 1450,1480 1450,1528','1158,1510 1200,1510 1170,1528']},
   {z:Z6,b:[-96,1155,197,1528],c:['30,1155 105,1155 197,1310 185,1340 100,1385 0,1440 -96,1510 -96,1420 -30,1300 10,1220']},
   {z:Z6,b:[219,1155,510,1528],c:['235,1155 262,1155 300,1330 280,1320','300,1280 420,1290 410,1360 385,1425 340,1380 300,1320','375,1270 430,1190 445,1250 395,1265','460,1260 495,1245 490,1290 465,1345','219,1390 285,1290 285,1330 219,1410','230,1510 250,1420 310,1430 260,1490','300,1528 335,1430 350,1528','415,1528 450,1345 460,1350 430,1528','485,1155 510,1155 510,1215','490,1490 510,1440 510,1528']}
  ];
  gr.forEach(function(d,i){
    var t=tile(host,d.z,d.b[0],d.b[1],d.b[2],d.b[3],'#022002','actin-tile-'+(i+1));
    var gA=mk('g',t,{filter:'url(#blur4)'});
    
    
    d.c.forEach(function(pts){
      var pg=mk('polygon',gA,{points:pts,fill:'#159a15',stroke:'#159a15','stroke-width':3,'stroke-linejoin':'round'});
      
      
      var arr=pts.split(' ').map(function(s){return s.split(',').map(Number);});
      var mx=0,my=0;arr.forEach(function(a){mx+=a[0];my+=a[1];});mx/=arr.length;my/=arr.length;
      var inner=arr.map(function(a){return (mx+(a[0]-mx)*0.55)+','+(my+(a[1]-my)*0.55);}).join(' ');
      var core=mk('polygon',gA,{points:inner,fill:'#08ec08',filter:'url(#blur8)'});
      
      
    });
    if(i===0){
      var ring=mk('ellipse',t,{cx:1270,cy:695,rx:12,ry:22,fill:'none',stroke:'#fff','stroke-width':5,'stroke-dasharray':'3 5'});
      
      
    }
  });

  var bl=[
   {b:[533,342,828,711],n:[[587,380,8,14,-15],[750,430,12,15,0],[660,537,9,15,0],[782,525,12,10,70],[585,617,7,14,0],[698,667,5,14,0],[766,670,7,13,30],[545,700,10,10,0],[785,705,10,8,0]]},
   {b:[848,342,1142,711],n:[[1050,440,8,11,30],[884,478,7,14,0],[1087,488,7,13,0],[972,527,8,16,0],[855,618,6,14,15],[963,667,8,14,50],[1040,685,7,12,50]]},
   {b:[1168,342,1462,711],n:[[1240,415,6,14,0],[1340,413,6,13,30],[1278,438,6,13,30],[1407,455,8,13,0],[1445,463,6,14,0],[1320,515,10,16,0],[1216,552,7,12,25],[1376,544,6,14,0],[1340,648,6,14,30],[1378,665,8,12,30],[1222,675,13,14,0],[1453,648,7,12,0],[1315,347,12,6,0]]},
   {b:[533,744,828,1117],n:[[777,845,11,12,60],[682,918,10,15,0],[553,1030,9,13,-30],[771,1038,9,15,0],[803,1108,8,10,0]]},
   {b:[848,744,1142,1117],n:[[1121,780,15,21,0],[857,852,9,12,0],[1072,847,9,15,-30],[1004,882,11,14,-30],[1000,972,12,20,0]]},
   {b:[1168,744,1465,1117],n:[[1338,842,8,15,20],[1250,862,10,11,-30],[1205,922,9,15,-20],[1225,915,5,9,0],[1444,907,9,15,-30],[1332,937,9,15,0],[1236,1075,9,14,20],[1442,1102,10,11,0]]},
   {b:[533,1150,828,1525],n:[[572,1237,8,14,20],[767,1300,8,16,0],[670,1305,10,23,-20,1],[820,1287,7,15,0],[640,1392,8,15,-20],[730,1485,8,17,0],[825,1160,6,12,0]]},
   {b:[848,1150,1144,1525],n:[[978,1347,14,32,10,1]]},
   {b:[1168,1150,1462,1525],n:[[1213,1200,11,19,0],[1357,1241,13,11,70],[1423,1290,11,18,0],[1453,1168,9,18,0],[1321,1340,11,21,-20,1],[1191,1365,9,13,20],[1196,1470,9,16,10]]}
  ];
  bl.forEach(function(d,i){
    var t=tile(host,Z6,d.b[0],d.b[1],d.b[2],d.b[3],'#01011f','nuclei-tile-'+(i+1));
    d.n.forEach(function(e){
      var tr='rotate('+e[4]+' '+e[0]+' '+e[1]+')';
      var nu=mk('ellipse',t,{cx:e[0],cy:e[1],rx:e[2],ry:e[3],fill:'#0808f4',transform:tr,filter:'url(#blur1)'});
      
      
      if(e[5]){
        var ring=mk('ellipse',t,{cx:e[0],cy:e[1],rx:e[2]+3,ry:e[3]+3,fill:'none',stroke:'#fff','stroke-width':5,'stroke-dasharray':'4 6',transform:tr});
        
        
      }
    });
  });
})();
</script>
</body>
</html>
